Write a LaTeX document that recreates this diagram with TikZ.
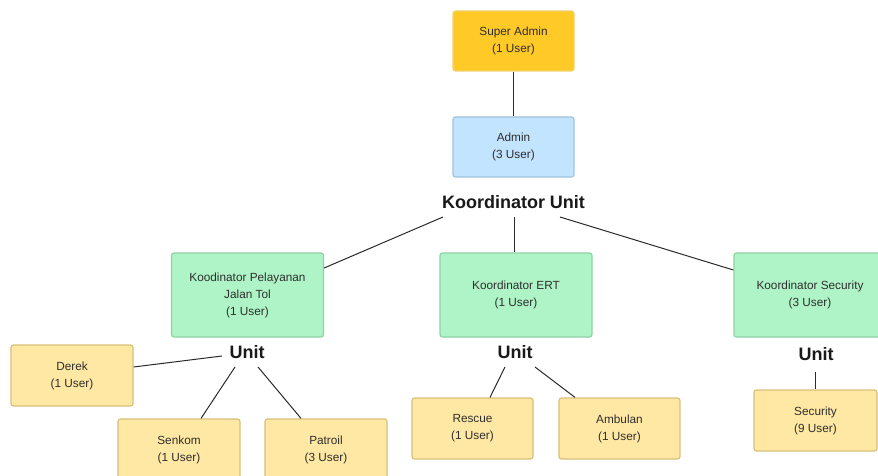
\documentclass[tikz,border=0pt]{standalone}
\usepackage{fontspec}
\setmainfont{Liberation Sans}
\definecolor{txt}{HTML}{2E2E2E}
\definecolor{wire}{HTML}{2B2B2B}
\definecolor{goldfill}{HTML}{FFC928}
\definecolor{goldline}{HTML}{F2D26A}
\definecolor{bluefill}{HTML}{C2E4FF}
\definecolor{blueline}{HTML}{9FC3DE}
\definecolor{greenfill}{HTML}{AEF4C6}
\definecolor{greenline}{HTML}{8ED3A5}
\definecolor{sandfill}{HTML}{FFE8A3}
\definecolor{sandline}{HTML}{D9C07A}
\tikzset{
  box/.style={rounded corners=2.5pt, line width=1.2pt, inner sep=0pt, align=center,
    text=txt, font=\fontsize{11.8}{17}\selectfont},
  top/.style={box, fill=goldfill, draw=goldline, minimum width=121pt, minimum height=60pt},
  admin/.style={box, fill=bluefill, draw=blueline, minimum width=121pt, minimum height=60pt},
  coord/.style={box, fill=greenfill, draw=greenline, minimum width=152pt, minimum height=84pt},
  unitbox/.style={box, fill=sandfill, draw=sandline, minimum width=122pt, minimum height=61pt},
  heading/.style={inner sep=0pt, text=black!90, font=\bfseries\fontsize{18}{20}\selectfont},
  wireline/.style={draw=wire, line width=1pt}
}
\begin{document}
\begin{tikzpicture}[x=1pt,y=-1pt]
\useasboundingbox (0,0) rectangle (878,476);
\clip (0,0) rectangle (878,476);
\fill[white] (0,0) rectangle (878,476);

% top of the hierarchy
\node[top] (super) at (513.5,41) {Super Admin\\(1 User)};
\node[admin] (admin) at (513.5,147) {Admin\\(3 User)};
\node[heading] (ku) at (513.5,202) {Koordinator Unit};

% coordinators
\node[coord] (kpjt) at (247.5,295) {Koodinator Pelayanan\\Jalan Tol\\(1 User)};
\node[coord] (kert) at (516,295) {Koordinator ERT\\(1 User)};
\node[coord] (ksec) at (810,295) {Koordinator Security\\(3 User)};

% unit labels
\node[heading] (u1) at (247,352) {Unit};
\node[heading] (u2) at (515,352) {Unit};
\node[heading] (u3) at (816,354) {Unit};

% units
\node[unitbox] (derek) at (72,375.5) {Derek\\(1 User)};
\node[unitbox] (senkom) at (179,449.5) {Senkom\\(1 User)};
\node[unitbox] (patroil) at (326,449.5) {Patroil\\(3 User)};
\node[unitbox, minimum width=121pt] (rescue) at (472.5,428.5) {Rescue\\(1 User)};
\node[unitbox, minimum width=121pt] (ambulan) at (619.5,428.5) {Ambulan\\(1 User)};
\node[unitbox, minimum width=123pt] (security) at (815.5,420.5) {Security\\(9 User)};

% free ends next to the labels
\coordinate (ka) at (443,217);
\coordinate (kb) at (514.5,217);
\coordinate (kc) at (560,217);
\coordinate (u1a) at (222,356);
\coordinate (u1b) at (235,367);
\coordinate (u1c) at (258,367);
\coordinate (u2a) at (505,367);
\coordinate (u2b) at (535,367);
\coordinate (u3a) at (815.5,372);

% connectors
\draw[wireline] (super.south) -- (admin.north);
\draw[wireline] (ka) -- (kpjt.east |- 0,268);
\draw[wireline] (kb) -- (kert.north -| kb);
\draw[wireline] (kc) -- (ksec.west |- 0,270);
\draw[wireline] (u1a) -- (derek.east |- 0,367);
\draw[wireline] (u1b) -- (senkom.north -| 201,0);
\draw[wireline] (u1c) -- (patroil.north -| 301,0);
\draw[wireline] (u2a) -- (rescue.north -| 490,0);
\draw[wireline] (u2b) -- (ambulan.north -| 575,0);
\draw[wireline] (u3a) -- (security.north -| u3a);
\end{tikzpicture}
\end{document}
